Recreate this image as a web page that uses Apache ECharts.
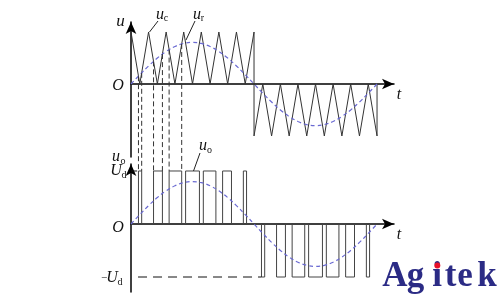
<!DOCTYPE html>
<html><head><meta charset="utf-8">
<script src="https://cdn.jsdelivr.net/npm/echarts@6/dist/echarts.min.js"></script>
<style>html,body{margin:0;padding:0;background:#fff}#c{width:500px;height:300px}</style>
</head><body><div id="c"></div>
<script>
// carrier (triangle) vertices
const carrierT = [0,1,2,3,4,5,6,7,8,9,10,11,12,13,14,14,15,16,17,18,19,20,21,22,23,24,25,26,27,28,28];
const carrierV = [1,0,1,0,1,0,1,0,1,0,1,0,1,0,1,-1,0,-1,0,-1,0,-1,0,-1,0,-1,0,-1,0,-1,0];
// reference sine samples
const sineT = [0,1,2,3,4,5,6,7,8,9,10,11,12,13,14,15,16,17,18,19,20,21,22,23,24,25,26,27,28];
const sineV = [0,0.178,0.347,0.499,0.625,0.721,0.780,0.8,0.780,0.721,0.625,0.499,0.347,0.178,0,
  -0.178,-0.347,-0.499,-0.625,-0.721,-0.780,-0.8,-0.780,-0.721,-0.625,-0.499,-0.347,-0.178,0];
// PWM pulse edges
const pulseStartPos = [0.849,2.565,4.338,6.213,8.23,10.425,12.785];
const pulseEndPos   = [1.215,3.575,5.77,7.787,9.662,11.435,13.151];
const pulseStartNeg = [14.849,16.565,18.338,20.213,22.23,24.425,26.785];
const pulseEndNeg   = [15.215,17.575,19.77,21.787,23.662,25.435,27.151];
const halfEnd = 14, fullEnd = 28;
// projection guides (crossing points)
const guideT = [0.849,1.215,2.565,3.575,4.338,5.77];
const guideV = [0.15,0.215,0.435,0.575,0.662,0.77];
const negGuideStart = 0.8;
const udTickEnd = 0.7;

const pwm = [[0,0]];
pulseStartPos.forEach((a,i)=>{const b=pulseEndPos[i]; pwm.push([a,0],[a,1],[b,1],[b,0]);});
pwm.push([halfEnd,0]);
pulseStartNeg.forEach((a,i)=>{const b=pulseEndNeg[i]; pwm.push([a,0],[a,-1],[b,-1],[b,0]);});
pwm.push([fullEnd,0]);

const carrier = carrierT.map((t,i)=>[t,carrierV[i]]);
const sine = sineT.map((t,i)=>[t,sineV[i]]);

const chart = echarts.init(document.getElementById('c'), null, {renderer:'canvas'});
const axisLine = {show:true, onZero:true, symbol:['none','arrow'], symbolSize:[8,12], lineStyle:{color:'#000', width:1.5}};
const xa = (g)=>({type:'value', gridIndex:g, min:0, max:29.93, axisLine, axisTick:{show:false}, axisLabel:{show:false}, splitLine:{show:false}});
const grids = [
  {left:131, top:22, width:263, height:135, containLabel:false, outerBoundsMode:'none'},
  {left:131, top:164, width:263, height:128, containLabel:false, outerBoundsMode:'none'}
];
const sineStyle = {color:'#6a6ad2', width:1.2, type:[4,3]};
const option = {
  animation:false,
  grid: grids,
  xAxis:[xa(0), xa(1)],
  yAxis:[
    {type:'value', gridIndex:0, min:-1.404, max:1.192, axisLine, axisTick:{show:false}, axisLabel:{show:false}, splitLine:{show:false}},
    {type:'value', gridIndex:1, min:-1.283, max:1.132, axisLine, axisTick:{show:false}, axisLabel:{show:false}, splitLine:{show:false}}
  ],
  series:[
    {type:'line', xAxisIndex:0, yAxisIndex:0, data:carrier, symbol:'none', lineStyle:{color:'#333', width:1}, z:3},
    {type:'line', xAxisIndex:0, yAxisIndex:0, data:sine, smooth:0.4, symbol:'none', lineStyle:sineStyle, z:4},
    {type:'line', xAxisIndex:1, yAxisIndex:1, data:pwm, symbol:'none', lineStyle:{color:'#444', width:1}, z:3},
    {type:'line', xAxisIndex:1, yAxisIndex:1, data:sine, smooth:0.4, symbol:'none', lineStyle:sineStyle, z:4},
    {type:'line', xAxisIndex:1, yAxisIndex:1, data:[[negGuideStart,-1],[pulseStartNeg[0],-1]], symbol:'none', lineStyle:{color:'#111', width:1, type:[9,6]}},
    {type:'line', xAxisIndex:1, yAxisIndex:1, data:[[0,1],[udTickEnd,1]], symbol:'none', lineStyle:{color:'#111', width:1}}
  ]
};
chart.setOption(option);

const F = '"Liberation Serif", "DejaVu Serif", serif';
function T(x,y,s,size,italic,extra){return Object.assign({type:'text', x, y, z:10, style:{text:s, font:(italic?'italic ':'')+size+'px '+F, fill:'#111', align:'center', verticalAlign:'middle'}}, extra||{});}
function L(x1,y1,x2,y2,dash,color){return {type:'line', z:9, shape:{x1,y1,x2,y2}, style:{stroke:color||'#222', lineWidth:1, lineDash:dash||null}};}
const g = [];
guideT.forEach((t,i)=>{
  const p1 = chart.convertToPixel({gridIndex:0},[t,guideV[i]]);
  const p2 = chart.convertToPixel({gridIndex:1},[t,1]);
  g.push(L(p1[0],p1[1],p2[0],p2[1],[5,3],'#333'));
});
// top labels
g.push(T(120.5,21.5,'u',17,true));
g.push(T(160,15,'u',16,true)); g.push(T(166,18.5,'c',10,false));
g.push(T(197,15,'u',16,true)); g.push(T(202.5,18.5,'r',10,false));
g.push(L(158,21,149.5,32)); g.push(L(195,21,186,40));
g.push(T(118,86,'O',16,true));
g.push(T(399,95,'t',16,true));
// bottom labels
g.push(T(116,157,'u',16,true)); g.push(T(123,161,'o',10,false));
g.push(T(116,171,'U',16,true)); g.push(T(124,175.5,'d',10,false));
g.push(T(203,146,'u',16,true)); g.push(T(209.5,150,'o',10,false));
g.push(L(200,153,193.5,171));
g.push(T(118,228,'O',16,true));
g.push(T(399,235,'t',16,true));
g.push(T(104,278,'\u2212',11,false)); g.push(T(112,278,'U',16,true)); g.push(T(120,282,'d',10,false));
// logo
const LF = 'bold 35px "Liberation Serif", "DejaVu Serif", serif';
[['A',395],['g',415.5],['i',437],['t',450.5],['e',465],['k',487]].forEach(([c,x])=>{
  g.push({type:'text', x, y:294, z:10, style:{text:c, font:LF, fill:'#2b2b85', align:'center', verticalAlign:'bottom'}});
});
g.push({type:'circle', z:11, shape:{cx:437.3, cy:265.5, r:3}, style:{fill:'#e8102a'}});
chart.setOption({graphic:g});
</script></body></html>
